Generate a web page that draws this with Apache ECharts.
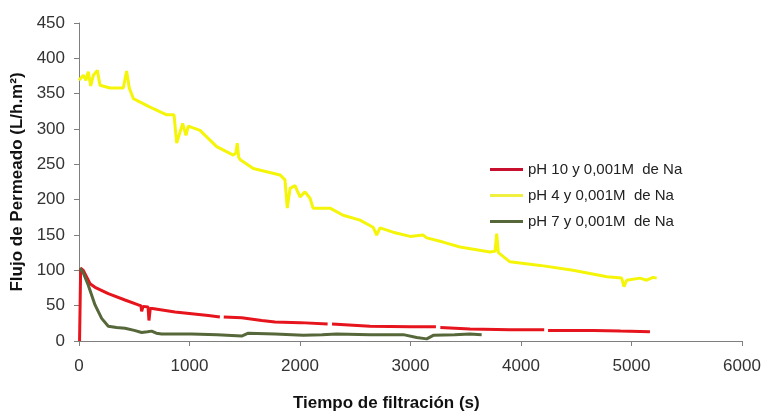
<!DOCTYPE html>
<html>
<head>
<meta charset="utf-8">
<script src="https://cdn.jsdelivr.net/npm/echarts@6/dist/echarts.min.js"></script>
<style>
  html, body { margin: 0; padding: 0; background: #fff; }
  #chart { width: 764px; height: 412px; }
</style>
</head>
<body>
<div id="chart"></div>
<script>
const seriesNames = ["pH 10 y 0,001M  de Na", "pH 4 y 0,001M  de Na", "pH 7 y 0,001M  de Na"];

// pH 10 (null = gap in the trace)
const redTime = [5, 15, 39, 100, 145, 265, 416, 537, 560, 567, 580, 597, 625, 633, 645, 664, 869, 1170, 1275, 1290, 1310, 1472, 1653, 1774, 2000, 2250, 2270, 2290, 2634, 3000, 3230, 3250, 3270, 3538, 3900, 4210, 4226, 4245, 4654, 4900, 5167];
const redFlux = [0, 103, 100, 81, 76, 67, 58, 51, 50, 42, 49, 50, 48, 29, 46, 46, 41, 36, 34, null, 34, 33, 29, 27, 26, 24, null, 24, 21, 20, 20, null, 19, 17, 16, 16, null, 15, 15, 14, 13];

// pH 4
const yellowTime = [0, 39, 63, 84, 106, 130, 166, 190, 281, 401, 431, 455, 492, 643, 794, 860, 884, 938, 968, 989, 1095, 1246, 1396, 1420, 1432, 1445, 1463, 1577, 1819, 1864, 1885, 1910, 1955, 2000, 2045, 2091, 2118, 2272, 2390, 2543, 2661, 2694, 2724, 2842, 2996, 3113, 3147, 3294, 3448, 3719, 3765, 3780, 3795, 3810, 3900, 4172, 4470, 4778, 4911, 4932, 4956, 5077, 5137, 5195, 5228];
const yellowFlux = [369, 376, 369, 381, 361, 376, 383, 362, 358, 358, 382, 358, 343, 331, 320, 320, 280, 308, 291, 304, 298, 275, 263, 266, 280, 260, 256, 244, 235, 228, 188, 216, 220, 204, 211, 202, 188, 188, 178, 171, 161, 150, 160, 154, 148, 150, 146, 140, 133, 126, 127, 152, 125, 124, 112, 107, 100, 91, 89, 77, 86, 89, 86, 90, 89];

// pH 7
const greenTime = [9, 40, 84, 145, 205, 265, 340, 416, 500, 567, 620, 657, 700, 748, 900, 1019, 1250, 1472, 1532, 1774, 2030, 2200, 2332, 2634, 2935, 3056, 3147, 3206, 3400, 3538, 3644];
const greenFlux = [103, 96, 79, 51, 32, 21, 19, 18, 15, 12, 13, 14, 11, 10, 10, 10, 9, 7, 11, 10, 8, 9, 10, 9, 9, 5, 3, 8, 9, 10, 9];

const xTicks = { min: 0, max: 6000, interval: 1000 };
const yTicks = { min: 0, max: 450, interval: 50 };

function pairs(xs, ys) {
  return xs.map((x, i) => [x, ys[i] === null ? "-" : ys[i]]);
}

const font = 'Arial, "Liberation Sans", sans-serif';
const axisGray = "#7f7f7f";

const chart = echarts.init(document.getElementById("chart"));
chart.setOption({
  animation: false,
  title: {
    text: "Tiempo de filtración (s)",
    left: 293,
    top: 395,
    padding: 0,
    textStyle: { fontFamily: font, fontSize: 17, fontWeight: "bold", color: "#111" },
  },
  legend: {
    left: 490,
    top: 162,
    padding: 0,
    orient: "vertical",
    icon: "rect",
    itemWidth: 33,
    itemHeight: 3,
    itemGap: 11,
    textStyle: { fontFamily: font, fontSize: 15, lineHeight: 15, color: "#222" },
    data: [seriesNames[0], seriesNames[1], seriesNames[2]],
  },
  grid: { left: 79, right: 22, top: 23, bottom: 71 },
  xAxis: {
    type: "value",
    min: xTicks.min,
    max: xTicks.max,
    interval: xTicks.interval,
    axisLine: { lineStyle: { color: axisGray, width: 1 } },
    axisTick: { show: true, length: 5, lineStyle: { color: axisGray } },
    axisLabel: { margin: 17, fontFamily: font, fontSize: 17, color: "#333", formatter: (v) => String(v) },
    splitLine: { show: false },
  },
  yAxis: {
    type: "value",
    min: yTicks.min,
    max: yTicks.max,
    interval: yTicks.interval,
    name: "Flujo de Permeado (L/h.m²)",
    nameLocation: "middle",
    nameGap: 52,
    nameTextStyle: { fontFamily: font, fontSize: 17, fontWeight: "bold", color: "#111" },
    axisLine: { show: true, lineStyle: { color: axisGray, width: 1 } },
    axisTick: { show: true, length: 5, lineStyle: { color: axisGray } },
    axisLabel: { margin: 14, fontFamily: font, fontSize: 17, color: "#333" },
    splitLine: { show: false },
  },
  series: [
    {
      name: seriesNames[1],
      type: "line",
      symbol: "none",
      data: pairs(yellowTime, yellowFlux),
      lineStyle: { width: 3, color: "#f5f50a" },
      itemStyle: { color: "#f0f040" },
    },
    {
      name: seriesNames[0],
      type: "line",
      symbol: "none",
      connectNulls: false,
      data: pairs(redTime, redFlux),
      lineStyle: { width: 3, color: "#e6141c" },
      itemStyle: { color: "#c8102e" },
    },
    {
      name: seriesNames[2],
      type: "line",
      symbol: "none",
      data: pairs(greenTime, greenFlux),
      lineStyle: { width: 3, color: "#56683a" },
      itemStyle: { color: "#56683a" },
    },
  ],
});
</script>
</body>
</html>
